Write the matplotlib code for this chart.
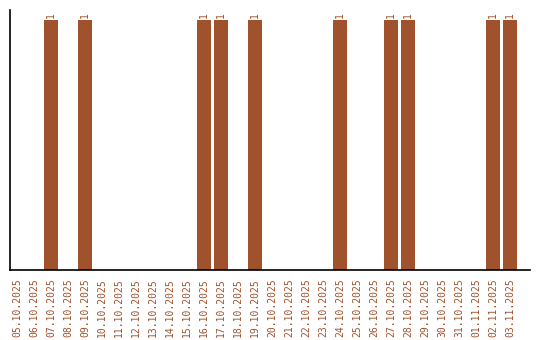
import matplotlib
matplotlib.use("Agg")
import matplotlib.pyplot as plt

dates = ["05.10.2025", "06.10.2025", "07.10.2025", "08.10.2025", "09.10.2025",
         "10.10.2025", "11.10.2025", "12.10.2025", "13.10.2025", "14.10.2025",
         "15.10.2025", "16.10.2025", "17.10.2025", "18.10.2025", "19.10.2025",
         "20.10.2025", "21.10.2025", "22.10.2025", "23.10.2025", "24.10.2025",
         "25.10.2025", "26.10.2025", "27.10.2025", "28.10.2025", "29.10.2025",
         "30.10.2025", "31.10.2025", "01.11.2025", "02.11.2025", "03.11.2025"]
counts = [0, 0, 1, 0, 1, 0, 0, 0, 0, 0, 0, 1, 1, 0, 1,
          0, 0, 0, 0, 1, 0, 0, 1, 1, 0, 0, 0, 0, 1, 1]

col = "#A0522D"
fig = plt.figure(figsize=(5.4, 3.4), dpi=100)
ax = fig.add_axes([10/540, 70/340, 520/540, 260/340])
x = list(range(len(dates)))
ax.bar(x, counts, width=0.82, color=col)
for xi, c in zip(x, counts):
    if c:
        ax.text(xi, c + 0.01, str(c), rotation=90, ha="center", va="bottom",
                color=col, fontsize=7, family="DejaVu Sans Mono")
ax.set_xlim(-0.41, len(dates) - 1 + 1.18)
ax.set_ylim(0, 1.04)
ax.set_xticks(x)
ax.set_xticklabels(dates, rotation=90, color=col, fontsize=7, family="DejaVu Sans Mono")
ax.tick_params(axis="x", length=0, pad=6)
ax.set_yticks([])
for s in ["top", "right"]:
    ax.spines[s].set_visible(False)
ax.spines["left"].set_linewidth(1.2)
ax.spines["bottom"].set_linewidth(1.2)
fig.savefig("out.png", dpi=100)
